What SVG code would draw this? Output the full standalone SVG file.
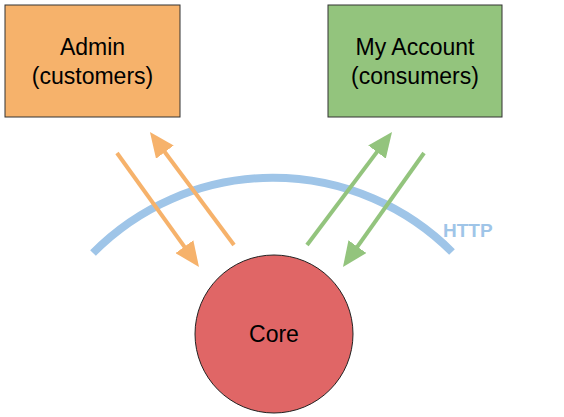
<svg xmlns="http://www.w3.org/2000/svg" width="564" height="417" viewBox="0 0 564 417">
<style>
.label{font-family:"Liberation Sans",Arial,sans-serif;font-size:23px;fill:#000;text-anchor:middle}
.box{stroke:#333;stroke-width:1}
.orange{stroke:#f6b26b;stroke-width:4;fill:none}
.green{stroke:#93c47d;stroke-width:4;fill:none}
</style>
<defs>
<marker id="ao" viewBox="0 0 25 22" refX="12" refY="11" markerWidth="25" markerHeight="22" markerUnits="userSpaceOnUse" orient="auto"><path d="M0,0 L25,11 L0,22 z" fill="#f6b26b"/></marker>
<marker id="ag" viewBox="0 0 25 22" refX="12" refY="11" markerWidth="25" markerHeight="22" markerUnits="userSpaceOnUse" orient="auto"><path d="M0,0 L25,11 L0,22 z" fill="#93c47d"/></marker>
</defs>
<rect width="564" height="417" fill="#fff"/>
<g id="http">
<path d="M93,253 A253,253 0 0,1 452,252" fill="none" stroke="#9fc5e8" stroke-width="8"/>
<text x="443" y="237" font-family="Liberation Sans,Arial,sans-serif" font-size="19" font-weight="bold" fill="#9fc5e8">HTTP</text>
</g>
<g id="admin">
<rect class="box" x="5" y="5" width="175" height="112" fill="#f6b26b"/>
<text class="label" x="92.5" y="55">Admin</text>
<text class="label" x="92.5" y="84">(customers)</text>
</g>
<g id="myaccount">
<rect class="box" x="328" y="5" width="174" height="112" fill="#93c47d"/>
<text class="label" x="415" y="55">My Account</text>
<text class="label" x="415" y="84">(consumers)</text>
</g>
<g id="core">
<circle cx="274" cy="334" r="79" fill="#e06666" stroke="#222" stroke-width="1"/>
<text class="label" x="274" y="342">Core</text>
</g>
<g id="connectors">
<line class="orange" x1="117" y1="153" x2="191.4" y2="256.4" marker-end="url(#ao)"/>
<line class="orange" x1="234" y1="245" x2="157.7" y2="142.5" marker-end="url(#ao)"/>
<line class="green" x1="307" y1="245" x2="384.2" y2="142.4" marker-end="url(#ag)"/>
<line class="green" x1="424" y1="153" x2="350.5" y2="256.4" marker-end="url(#ag)"/>
</g>
</svg>
